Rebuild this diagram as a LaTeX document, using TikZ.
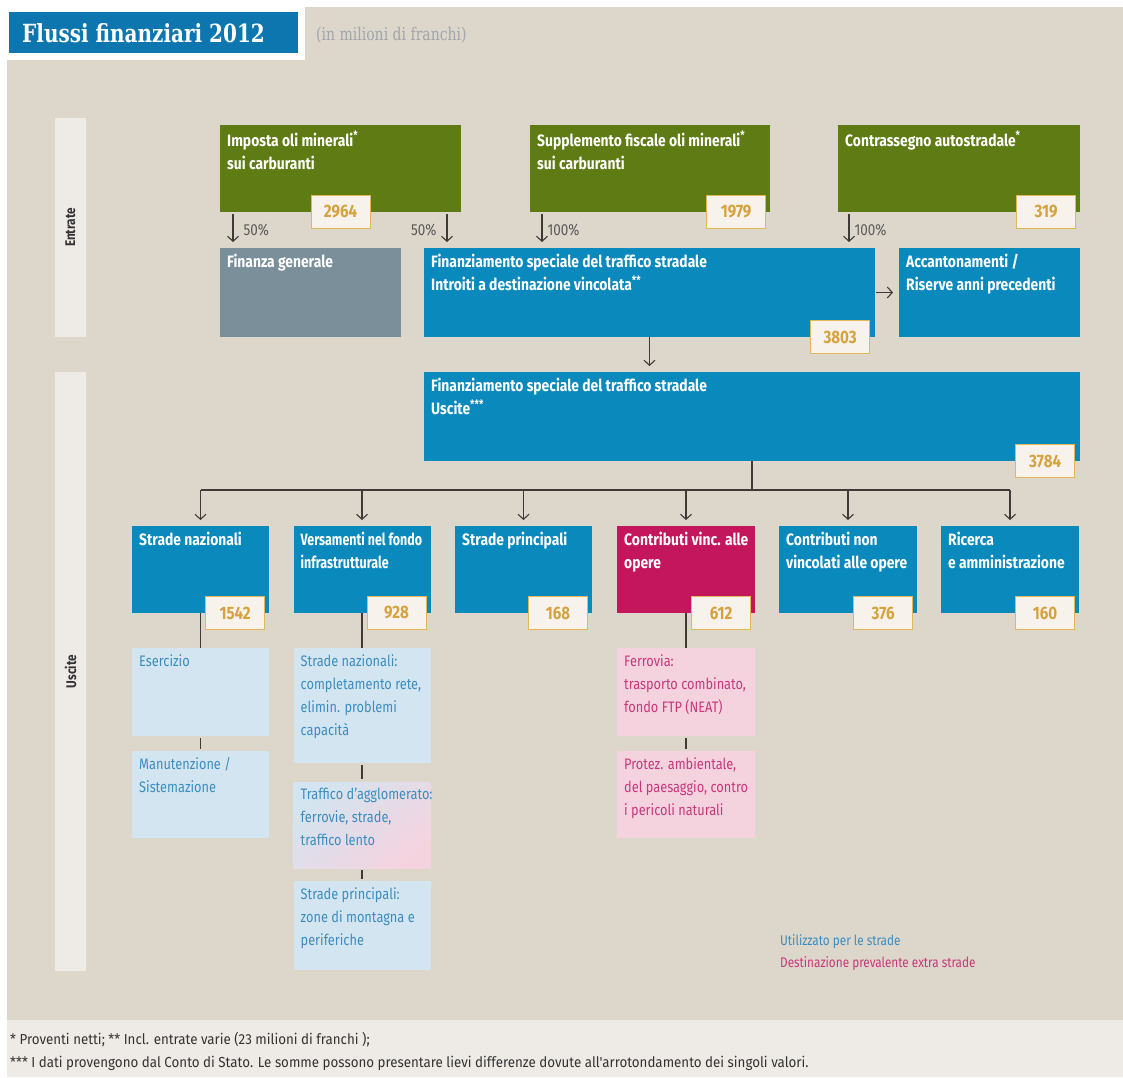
\documentclass[tikz,border=0pt]{standalone}
\usepackage{fontspec}
\setmainfont{Fira Sans}[FakeStretch=0.84]
\newfontfamily\titlefont{DejaVu Serif}[FakeStretch=0.8]
\newfontfamily\notefont{Fira Sans}[FakeStretch=0.92]
\usetikzlibrary{arrows.meta}

\definecolor{bgbeige}{HTML}{DDD6CA}
\definecolor{notegrey}{HTML}{EEEBE6}
\definecolor{bandlight}{HTML}{EEEAE5}
\definecolor{titleblue}{HTML}{0E76AE}
\definecolor{subgrey}{HTML}{A0A6AC}
\definecolor{oilgreen}{HTML}{5E7B14}
\definecolor{fsblue}{HTML}{0A89BC}
\definecolor{genblue}{HTML}{7B8F9A}
\definecolor{vincred}{HTML}{C4165C}
\definecolor{sublight}{HTML}{D3E5F0}
\definecolor{subpink}{HTML}{F4D3DF}
\definecolor{subtext}{HTML}{3C8DBF}
\definecolor{pinktext}{HTML}{C8387A}
\definecolor{numfill}{HTML}{F7F3EC}
\definecolor{numline}{HTML}{E3B657}
\definecolor{numtext}{HTML}{D6A23F}
\definecolor{pctgrey}{HTML}{5B5B5B}
\definecolor{linegrey}{HTML}{3D3A37}
\definecolor{labeldark}{HTML}{333333}

\begin{document}
\begin{tikzpicture}[x=1pt,y=-1pt,>={Straight Barb[length=5pt,width=11pt]},
  box/.style={rectangle,anchor=north west,inner sep=0pt,outer sep=0pt},
  greenbox/.style={box,fill=oilgreen},
  bluebox/.style={box,fill=fsblue},
  subbox/.style={box,fill=sublight},
  pinkbox/.style={box,fill=subpink},
  txt/.style={anchor=north west,inner sep=0pt,align=left,text=white,font=\bfseries\fontsize{16.5}{23}\selectfont},
  subtxt/.style={txt,text=subtext,font=\fontsize{15.2}{23}\selectfont},
  pinktxt/.style={subtxt,text=pinktext},
  num/.style={rectangle,draw=numline,line width=0.8pt,fill=numfill,text=numtext,minimum width=59,minimum height=33,inner sep=0pt,font=\bfseries\fontsize{18}{18}\selectfont},
  pct/.style={inner sep=0pt,text=pctgrey,font=\fontsize{16}{16}\selectfont},
  link/.style={draw=linegrey,line width=1.1pt},
  arr/.style={link,->,shorten >=6pt}]

  \useasboundingbox (0,0) rectangle (1123,1077);
  \fill[white] (0,0) rectangle (1123,1077);
  \fill[bgbeige] (7,7) rectangle (1123,1020);
  \fill[notegrey] (7,1020) rectangle (1123,1077);
  \fill[white] (7,7) rectangle (305,60);

  \node[box,fill=titleblue,minimum width=289,minimum height=41] (title) at (9,12) {};
  \node[anchor=west,inner sep=0pt,text=white,font=\titlefont\bfseries\fontsize{25}{25}\selectfont] (title-t) at (22,33) {Flussi finanziari 2012};
  \node[anchor=west,inner sep=0pt,text=subgrey,font=\titlefont\fontsize{17.5}{17.5}\selectfont] (unit) at (316,35) {(in milioni di franchi)};

  % side bands
  \node[box,fill=bandlight,minimum width=31,minimum height=219] (entrate) at (55,118) {};
  \node[rotate=90,inner sep=0pt,text=labeldark,font=\bfseries\fontsize{14}{14}\selectfont] (entrate-t) at (entrate.center) {Entrate};
  \node[box,fill=bandlight,minimum width=31,minimum height=599] (uscite-b) at (55,372) {};
  \node[rotate=90,inner sep=0pt,text=labeldark,font=\bfseries\fontsize{14}{14}\selectfont] (uscite-bt) at (uscite-b.center) {Uscite};

  % entrate
  \node[greenbox,minimum width=241,minimum height=87] (imposta) at (220,125) {};
  \node[txt] (imposta-t) at ([shift={(7,6)}]imposta.north west) {Imposta oli minerali\textsuperscript{*}\\sui carburanti};
  \node[greenbox,minimum width=240,minimum height=87] (suppl) at (530,125) {};
  \node[txt] (suppl-t) at ([shift={(7,6)}]suppl.north west) {Supplemento fiscale oli minerali\textsuperscript{*}\\sui carburanti};
  \node[greenbox,minimum width=242,minimum height=87] (contr) at (838,125) {};
  \node[txt] (contr-t) at ([shift={(7,6)}]contr.north west) {Contrassegno autostradale\textsuperscript{*}};

  \node[box,fill=genblue,minimum width=181,minimum height=89] (finanza) at (220,248) {};
  \node[txt] (finanza-t) at ([shift={(7,6)}]finanza.north west) {Finanza generale};
  \node[bluebox,minimum width=451,minimum height=89] (introiti) at (424,248) {};
  \node[txt] (introiti-t) at ([shift={(7,6)}]introiti.north west) {Finanziamento speciale del traffico stradale\\Introiti a destinazione vincolata\textsuperscript{**}};
  \node[bluebox,minimum width=181,minimum height=89] (accant) at (899,248) {};
  \node[txt] (accant-t) at ([shift={(7,6)}]accant.north west) {Accantonamenti /\\Riserve anni precedenti};

  \draw[arr,shorten <=2pt] ([xshift=13]imposta.south west) -- ([xshift=13]imposta.south west |- finanza.north)
    node[pct,midway,right=10pt] (p1) {50\%};
  \draw[arr,shorten <=2pt] ([xshift=-14]imposta.south east) -- ([xshift=-14]imposta.south east |- introiti.north)
    node[pct,midway,left=10pt] (p2) {50\%};
  \draw[arr,shorten <=2pt] ([xshift=12]suppl.south west) -- ([xshift=12]suppl.south west |- introiti.north)
    node[pct,midway,right=5pt] (p3) {100\%};
  \draw[arr,shorten <=2pt] ([xshift=11]contr.south west) -- ([xshift=11]contr.south west |- accant.north)
    node[pct,midway,right=5pt] (p4) {100\%};
  \draw[arr,shorten <=1pt] (introiti) -- (accant);

  \node[num] (n2964) at (imposta.south) {2964};
  \node[num,anchor=east] (n1979) at ([xshift=-4]suppl.south east) {1979};
  \node[num,anchor=east] (n319) at ([xshift=-4]contr.south east) {319};

  % uscite
  \node[bluebox,minimum width=656,minimum height=89] (uscite) at (424,372) {};
  \node[txt] (uscite-t) at ([shift={(7,6)}]uscite.north west) {Finanziamento speciale del traffico stradale\\Uscite\textsuperscript{***}};
  \draw[arr] (introiti.south) -- (uscite.north -| introiti.south);
  \node[num,anchor=east] (n3803) at ([xshift=-5]introiti.south east) {3803};

  \node[bluebox,minimum width=137,minimum height=87] (strnaz) at (132,526) {};
  \node[txt] (strnaz-t) at ([shift={(7,6)}]strnaz.north west) {Strade nazionali};
  \node[bluebox,minimum width=137,minimum height=87] (versam) at (293.5,526) {};
  \node[txt,xscale=0.9] (versam-t) at ([shift={(7,6)}]versam.north west) {Versamenti nel fondo\\infrastrutturale};
  \node[bluebox,minimum width=137,minimum height=87] (strprinc) at (455,526) {};
  \node[txt] (strprinc-t) at ([shift={(7,6)}]strprinc.north west) {Strade principali};
  \node[box,fill=vincred,minimum width=138,minimum height=87] (contvinc) at (617,526) {};
  \node[txt] (contvinc-t) at ([shift={(7,6)}]contvinc.north west) {Contributi vinc. alle\\opere};
  \node[bluebox,minimum width=138,minimum height=87] (contnon) at (779,526) {};
  \node[txt] (contnon-t) at ([shift={(7,6)}]contnon.north west) {Contributi non\\vincolati alle opere};
  \node[bluebox,minimum width=138,minimum height=87] (ricerca) at (941,526) {};
  \node[txt] (ricerca-t) at ([shift={(7,6)}]ricerca.north west) {Ricerca\\e amministrazione};

  \coordinate (bus) at (0,490);
  \draw[link] (uscite.south) -- (uscite.south |- bus);
  \draw[link] (strnaz.north |- bus) -- (ricerca.north |- bus);
  \foreach \n in {strnaz,versam,strprinc,contvinc,contnon,ricerca}
    \draw[arr] (\n.north |- bus) -- (\n.north);
  \node[num,anchor=east] (n3784) at ([xshift=-5]uscite.south east) {3784};

  % details
  \node[subbox,minimum width=137,minimum height=88] (eserc) at (132,648) {};
  \node[subtxt] (eserc-t) at ([shift={(7,6)}]eserc.north west) {Esercizio};
  \node[subbox,minimum width=137,minimum height=87] (manut) at (132,751) {};
  \node[subtxt] (manut-t) at ([shift={(7,6)}]manut.north west) {Manutenzione /\\Sistemazione};
  \node[subbox,minimum width=137,minimum height=115] (completam) at (293.5,648) {};
  \node[subtxt] (completam-t) at ([shift={(7,6)}]completam.north west) {Strade nazionali:\\completamento rete,\\elimin. problemi\\capacità};
  \node[box,minimum width=137,minimum height=86,top color=sublight,middle color=subpink,bottom color=subpink,shading angle=40] (agglo) at (293.5,782) {};
  \node[subtxt] (agglo-t) at ([shift={(7,6)}]agglo.north west) {Traffico d'agglomerato:\\ferrovie, strade,\\traffico lento};
  \node[subbox,minimum width=137,minimum height=89] (montagna) at (293.5,881) {};
  \node[subtxt] (montagna-t) at ([shift={(7,6)}]montagna.north west) {Strade principali:\\zone di montagna e\\periferiche};
  \node[pinkbox,minimum width=138,minimum height=88] (ferrovia) at (617,648) {};
  \node[pinktxt] (ferrovia-t) at ([shift={(7,6)}]ferrovia.north west) {Ferrovia:\\trasporto combinato,\\fondo FTP (NEAT)};
  \node[pinkbox,minimum width=138,minimum height=87] (protez) at (617,751) {};
  \node[pinktxt] (protez-t) at ([shift={(7,6)}]protez.north west) {Protez. ambientale,\\del paesaggio, contro\\i pericoli naturali};

  \draw[link] (strnaz.south) -- (eserc.north);
  \draw[link,shorten <=2pt,shorten >=2pt] (eserc.south) -- (manut.north);
  \draw[link] (versam.south) -- (completam.north);
  \draw[link,shorten <=2pt,shorten >=3pt] (completam.south) -- (agglo.north);
  \draw[link,shorten <=2pt,shorten >=2pt] (agglo.south) -- (montagna.north);
  \draw[link] (contvinc.south) -- (ferrovia.north);
  \draw[link,shorten <=2pt,shorten >=2pt] (ferrovia.south) -- (protez.north);

  \node[num,anchor=east] (n1542) at ([xshift=-4]strnaz.south east) {1542};
  \node[num,anchor=east] (n928) at ([xshift=-4]versam.south east) {928};
  \node[num,anchor=east] (n168) at ([xshift=-4]strprinc.south east) {168};
  \node[num,anchor=east] (n612) at ([xshift=-4]contvinc.south east) {612};
  \node[num,anchor=east] (n376) at ([xshift=-4]contnon.south east) {376};
  \node[num,anchor=east] (n160) at ([xshift=-4]ricerca.south east) {160};

  % legend and notes
  \node[anchor=west,inner sep=0pt,text=subtext,font=\fontsize{14}{14}\selectfont] (leg1) at (780,942) {Utilizzato per le strade};
  \node[anchor=west,inner sep=0pt,text=pinktext,font=\fontsize{14}{14}\selectfont] (leg2) at (780,964) {Destinazione prevalente extra strade};
  \node[anchor=west,inner sep=0pt,text=labeldark,font=\notefont\fontsize{14.5}{14.5}\selectfont] (note1) at (10,1040) {* Proventi netti; ** Incl. entrate varie (23 milioni di franchi );};
  \node[anchor=west,inner sep=0pt,text=labeldark,font=\notefont\fontsize{14.5}{14.5}\selectfont] (note2) at (10,1063) {*** I dati provengono dal Conto di Stato. Le somme possono presentare lievi differenze dovute all'arrotondamento dei singoli valori.};
\end{tikzpicture}
\end{document}
